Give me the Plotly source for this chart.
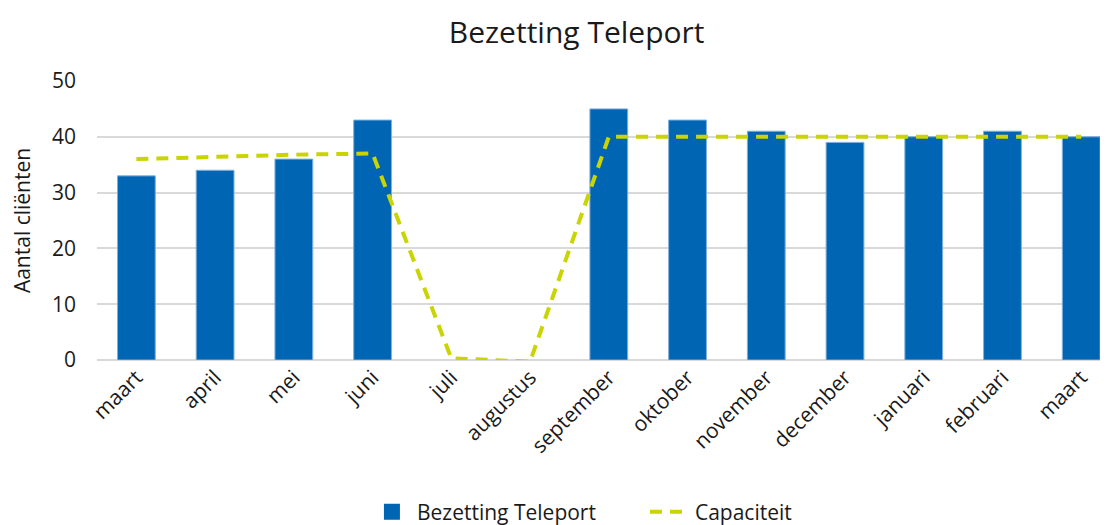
import plotly.graph_objects as go

months = ["maart", "april", "mei", "juni", "juli", "augustus", "september",
          "oktober", "november", "december", "januari", "februari", "maart"]
bezetting = [33, 34, 36, 43, None, None, 45, 43, 41, 39, 40, 41, 40]
capaciteit = [36, 36.4, 36.8, 37, 0.3, -0.3, 40, 40, 40, 40, 40, 40, 40]

x_pos = list(range(len(months)))
BLUE = "#0065b3"
GREEN = "#c9d400"

fig = go.Figure()
fig.add_trace(
    go.Bar(
        x=x_pos,
        y=bezetting,
        name="Bezetting Teleport",
        width=0.48,
        showlegend=False,
        marker={"color": BLUE, "line": {"color": "#7fb0dd", "width": 1}},
    )
)
# legend-only entry with a bigger square swatch
fig.add_trace(
    go.Scatter(
        x=[None],
        y=[None],
        mode="markers",
        name="Bezetting Teleport",
        marker={"symbol": "square", "size": 22, "color": BLUE},
    )
)
fig.add_trace(
    go.Scatter(
        x=x_pos,
        y=capaciteit,
        mode="lines",
        name="Capaciteit",
        line={"color": GREEN, "width": 4, "dash": "12px,8px"},
    )
)

# page body has an 8px margin, so the figure is sized/offset to compensate
fig.update_layout(
    width=1100,
    height=517,
    template="plotly_white",
    font={"family": "Open Sans", "size": 20, "color": "#1a1a1a"},
    title={"text": "Bezetting Teleport", "x": 0.517, "xanchor": "center",
           "y": 0.952, "yanchor": "middle", "font": {"size": 30}},
    margin={"l": 89, "r": 0, "t": 73, "b": 165},
    plot_bgcolor="white",
    paper_bgcolor="white",
    showlegend=True,
    legend={"orientation": "h", "x": 0.267, "xanchor": "left",
            "yref": "container", "y": 0.025, "yanchor": "middle",
            "font": {"size": 21}, "itemwidth": 40, "entrywidth": 223,
            "tracegroupgap": 0},
    xaxis={
        "range": [-0.5, 12.34],
        "tickmode": "array",
        "tickvals": x_pos,
        "ticktext": months,
        "tickangle": -45,
        "tickfont": {"size": 21},
        "showgrid": False,
        "zeroline": False,
        "showline": False,
        "ticks": "",
        "automargin": False,
    },
    yaxis={
        "range": [0, 50],
        "dtick": 10,
        "showgrid": True,
        "gridcolor": "#d9d9d9",
        "gridwidth": 2,
        "zeroline": True,
        "zerolinecolor": "#d9d9d9",
        "zerolinewidth": 2,
        "ticklabelstandoff": 20,
        "tickfont": {"size": 21},
        "automargin": False,
        "title": {"text": "Aantal cliënten", "font": {"size": 21}, "standoff": 22},
    },
)

fig.write_html("out.html")
